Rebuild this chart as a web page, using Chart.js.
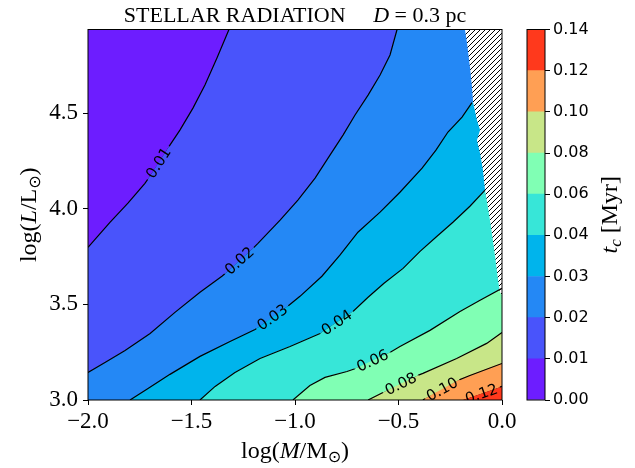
<!DOCTYPE html>
<html>
<head>
<meta charset="utf-8">
<script src="https://cdn.jsdelivr.net/npm/chart.js@4.4.0/dist/chart.umd.min.js"></script>
<style>
html, body { margin: 0; padding: 0; background: #fff; }
#wrap { position: relative; width: 635px; height: 468px; }
#wrap canvas { position: absolute; left: 0; top: 0; }
</style>
</head>
<body>
<div id="wrap">
  <canvas id="main" width="635" height="468"></canvas>
  <canvas id="cbar" width="635" height="468"></canvas>
</div>
<script>
// Axis ranges and ticks
const xMin = -2.0, xMax = 0.0, yMin = 3.0, yMax = 4.937;
const xTicks = [-2.0, -1.5, -1.0, -0.5, 0.0];
const yTicks = [3.0, 3.5, 4.0, 4.5];

// Contour levels (Myr) and colorbar tick labels
const levels = [0.00, 0.01, 0.02, 0.03, 0.04, 0.06, 0.08, 0.10, 0.12, 0.14];
const levelLabels = ['0.00', '0.01', '0.02', '0.03', '0.04', '0.06', '0.08', '0.10', '0.12', '0.14'];

// Contour lines, [log M, log L]
const line001 = [[-1.319, 4.937], [-1.377, 4.788], [-1.435, 4.647], [-1.493, 4.526], [-1.556, 4.411], [-1.614, 4.317], [-1.657, 4.238], [-1.725, 4.133], [-1.807, 4.029], [-1.894, 3.929], [-2.000, 3.798]];
const line002 = [[-0.507, 4.937], [-0.541, 4.804], [-0.589, 4.699], [-0.647, 4.594], [-0.710, 4.490], [-0.768, 4.385], [-0.831, 4.280], [-0.903, 4.160], [-0.986, 4.045], [-1.072, 3.940], [-1.179, 3.819], [-1.266, 3.725], [-1.353, 3.647], [-1.459, 3.563], [-1.580, 3.458], [-1.700, 3.348], [-1.821, 3.259], [-1.918, 3.196], [-2.000, 3.144]];
const line003 = [[-0.145, 4.555], [-0.193, 4.479], [-0.261, 4.401], [-0.319, 4.306], [-0.386, 4.212], [-0.493, 4.086], [-0.589, 3.982], [-0.696, 3.877], [-0.783, 3.757], [-0.870, 3.647], [-0.976, 3.542], [-1.106, 3.427], [-1.193, 3.369], [-1.314, 3.306], [-1.459, 3.228], [-1.604, 3.134], [-1.710, 3.060], [-1.797, 3.000]];
const line004 = [[-0.082, 4.097], [-0.155, 4.013], [-0.237, 3.929], [-0.314, 3.856], [-0.396, 3.777], [-0.478, 3.688], [-0.570, 3.610], [-0.647, 3.537], [-0.720, 3.463], [-0.797, 3.406], [-0.879, 3.348], [-1.024, 3.280], [-1.169, 3.217], [-1.290, 3.144], [-1.386, 3.071], [-1.459, 3.000]];
const line006 = [[0.000, 3.584], [-0.106, 3.521], [-0.203, 3.463], [-0.348, 3.364], [-0.493, 3.280], [-0.623, 3.196], [-0.749, 3.149], [-0.855, 3.118], [-0.928, 3.076], [-1.010, 3.000]];
const line008 = [[0.000, 3.353], [-0.074, 3.296], [-0.219, 3.217], [-0.382, 3.139], [-0.493, 3.092], [-0.575, 3.039], [-0.647, 3.000]];
const line010 = [[0.000, 3.191], [-0.155, 3.128], [-0.237, 3.092], [-0.300, 3.060], [-0.382, 3.000]];
const line012 = [[0.000, 3.071], [-0.092, 3.034], [-0.188, 3.000]];

// Edge of the hatched (no data) region at top right
const hatchEdge = [[-0.179, 4.937], [-0.169, 4.867], [-0.155, 4.741], [-0.145, 4.636], [-0.140, 4.558], [-0.121, 4.463], [-0.106, 4.411], [-0.121, 4.358], [-0.106, 4.290], [-0.092, 4.201], [-0.082, 4.097], [-0.068, 4.008], [-0.053, 3.903], [-0.034, 3.757], [-0.019, 3.626], [-0.010, 3.563], [0.000, 3.547]];

// Inline contour labels
const labelText = ['0.01', '0.02', '0.03', '0.04', '0.06', '0.08', '0.10', '0.12'];
const labelX = [-1.656, -1.266, -1.105, -0.799, -0.622, -0.493, -0.291, -0.098];
const labelY = [4.237, 3.725, 3.425, 3.407, 3.198, 3.093, 3.059, 3.024];

const contours = [line001, line002, line003, line004, line006, line008, line010, line012];

// rainbow colormap, one colour per band
const colors = ['#6d1dff', '#4954fb', '#2488f5', '#00b4ec', '#37e6d8', '#80ffb4', '#c8e688', '#ff9f54', '#ff391c'];

const serif = '"Liberation Serif", "DejaVu Serif", serif';
const sans = '"DejaVu Sans", sans-serif';

const toXY = pts => pts.map(p => ({x: p[0], y: p[1]}));

// region where t_c is above a level: the line plus the lower right corners
function regionAbove(pts) {
    const poly = pts.slice();
    const first = pts[0], last = pts[pts.length - 1];
    if (last[0] === xMin) poly.push([xMin, yMin]);
    poly.push([xMax, yMin]);
    poly.push([xMax, first[1]]);
    return poly;
}

function hatchPattern() {
    const s = 5;
    const c = document.createElement('canvas');
    c.width = s; c.height = s;
    const g = c.getContext('2d');
    g.fillStyle = '#fff';
    g.fillRect(0, 0, s, s);
    g.strokeStyle = '#000';
    g.lineWidth = 1;
    g.beginPath();
    g.moveTo(0, s); g.lineTo(s, 0);
    g.moveTo(-1, 1); g.lineTo(1, -1);
    g.moveTo(s - 1, s + 1); g.lineTo(s + 1, s - 1);
    g.stroke();
    return g.createPattern(c, 'repeat');
}

// draw a row of text pieces (for italics / subscripts) centred on cx
function drawRuns(ctx, runs, cx, cy, rot) {
    ctx.save();
    ctx.translate(cx, cy);
    ctx.rotate(rot);
    let w = 0;
    runs.forEach(r => { ctx.font = r.font; r.w = ctx.measureText(r.t).width; w += r.w; });
    let x = -w / 2;
    ctx.fillStyle = '#000';
    ctx.textAlign = 'left';
    ctx.textBaseline = 'alphabetic';
    runs.forEach(r => { ctx.font = r.font; ctx.fillText(r.t, x, r.dy || 0); x += r.w; });
    ctx.restore();
}

function pointAt(pts, s) {
    for (let k = 0; k < pts.length - 1; k++) {
        const [x1, y1] = pts[k], [x2, y2] = pts[k + 1];
        const len = Math.hypot(x2 - x1, y2 - y1);
        if (s <= len || k === pts.length - 2) {
            const t = len ? Math.max(0, Math.min(1, s / len)) : 0;
            return [x1 + t * (x2 - x1), y1 + t * (y2 - y1)];
        }
        s -= len;
    }
    return pts[0];
}

const contourLabels = {
    id: 'contourLabels',
    afterDatasetsDraw(chart) {
        const {ctx, chartArea: a} = chart;
        const xs = chart.scales.x, ys = chart.scales.y;
        ctx.save();
        ctx.beginPath();
        ctx.rect(a.left, a.top, a.right - a.left, a.bottom - a.top);
        ctx.clip();
        ctx.font = '15px ' + sans;
        labelText.forEach((txt, i) => {
            const pts = contours[i].map(p => [xs.getPixelForValue(p[0]), ys.getPixelForValue(p[1])]);
            const lx = xs.getPixelForValue(labelX[i]), ly = ys.getPixelForValue(labelY[i]);
            // project label onto the polyline
            let best = null, acc = 0;
            for (let k = 0; k < pts.length - 1; k++) {
                const [x1, y1] = pts[k], [x2, y2] = pts[k + 1];
                const dx = x2 - x1, dy = y2 - y1, len = Math.hypot(dx, dy);
                let t = ((lx - x1) * dx + (ly - y1) * dy) / (len * len);
                t = Math.max(0, Math.min(1, t));
                const px = x1 + t * dx, py = y1 + t * dy;
                const d = Math.hypot(px - lx, py - ly);
                if (!best || d < best.d) best = {d, px, py, s: acc + t * len};
                acc += len;
            }
            const tw = ctx.measureText(txt).width;
            const half = tw / 2 + 3;
            const p1 = pointAt(pts, Math.max(0, best.s - half));
            const p2 = pointAt(pts, best.s + half);
            let ang = Math.atan2(p2[1] - p1[1], p2[0] - p1[0]);
            if (ang > Math.PI / 2) ang -= Math.PI;
            if (ang < -Math.PI / 2) ang += Math.PI;
            const cx = (p1[0] + p2[0]) / 2, cy = (p1[1] + p2[1]) / 2;
            ctx.save();
            ctx.translate(cx, cy);
            ctx.rotate(ang);
            // gap in the contour line: paint both neighbouring bands
            ctx.fillStyle = colors[i];
            ctx.fillRect(-half, -4, 2 * half, 4);
            ctx.fillStyle = colors[i + 1];
            ctx.fillRect(-half, 0, 2 * half, 4);
            ctx.fillStyle = '#000';
            ctx.textAlign = 'center';
            ctx.textBaseline = 'middle';
            ctx.fillText(txt, 0, 1);
            ctx.restore();
        });
        ctx.restore();
    },
    afterDraw(chart) {
        const {ctx, chartArea: a} = chart;
        ctx.save();
        ctx.strokeStyle = '#000';
        ctx.lineWidth = 1;
        ctx.strokeRect(a.left, a.top, a.right - a.left, a.bottom - a.top);
        ctx.restore();
        const cx = (a.left + a.right) / 2;
        drawRuns(ctx, [
            {t: 'STELLAR RADIATION', font: '22px ' + serif},
            {t: '\u2003 ', font: '22px ' + serif},
            {t: 'D', font: 'italic 22px ' + serif},
            {t: ' = 0.3 pc', font: '22px ' + serif}
        ], cx, 22, 0);
        drawRuns(ctx, [
            {t: 'log(', font: '24px ' + serif},
            {t: 'M', font: 'italic 24px ' + serif},
            {t: '/M', font: '24px ' + serif},
            {t: '\u2299', font: '16px ' + sans, dy: 4},
            {t: ')', font: '24px ' + serif}
        ], cx, 458, 0);
        drawRuns(ctx, [
            {t: 'log(', font: '24px ' + serif},
            {t: 'L', font: 'italic 24px ' + serif},
            {t: '/L', font: '24px ' + serif},
            {t: '\u2299', font: '16px ' + sans, dy: 4},
            {t: ')', font: '24px ' + serif}
        ], 36, (a.top + a.bottom) / 2, -Math.PI / 2);
    }
};

// Build datasets: background band, filled regions, hatch, then the lines
const datasets = [];
datasets.push({
    data: toXY([[xMin, yMin], [xMax, yMin], [xMax, yMax], [xMin, yMax]]),
    backgroundColor: colors[0], borderColor: colors[0], borderWidth: 1,
    fill: 'shape', order: 40
});
contours.forEach((pts, i) => {
    datasets.push({
        data: toXY(regionAbove(pts)),
        backgroundColor: colors[i + 1], borderColor: colors[i + 1], borderWidth: 1,
        fill: 'shape', order: 30 - i
    });
});
datasets.push({
    data: toXY(hatchEdge.concat([[xMax, yMax]])),
    backgroundColor: hatchPattern(), borderColor: 'rgba(0,0,0,0)', borderWidth: 0,
    fill: 'shape', order: 2
});
contours.forEach(pts => {
    datasets.push({
        data: toXY(pts),
        borderColor: '#000', borderWidth: 1.2,
        fill: false, order: 1
    });
});

const fmtTick = v => v.toFixed(1).replace('-', '\u2212');

new Chart(document.getElementById('main'), {
    type: 'line',
    data: {datasets: datasets},
    options: {
        responsive: false,
        animation: false,
        layout: {padding: {left: 0, right: 133, top: 29.5, bottom: 0}},
        elements: {point: {radius: 0, hoverRadius: 0}, line: {tension: 0}},
        plugins: {legend: {display: false}, tooltip: {enabled: false}},
        events: [],
        scales: {
            x: {
                type: 'linear', min: xMin, max: xMax,
                afterBuildTicks: axis => { axis.ticks = xTicks.map(v => ({value: v})); },
                afterFit: axis => { axis.height = 68; },
                ticks: {callback: fmtTick, color: '#000', font: {family: serif, size: 23}, padding: 3, maxRotation: 0},
                grid: {drawOnChartArea: false, color: '#000', tickLength: 5},
                border: {display: false}
            },
            y: {
                type: 'linear', min: yMin, max: yMax,
                afterBuildTicks: axis => { axis.ticks = yTicks.map(v => ({value: v})); },
                afterFit: axis => { axis.width = 88; },
                ticks: {callback: fmtTick, color: '#000', font: {family: serif, size: 23}, padding: 5},
                grid: {drawOnChartArea: false, color: '#000', tickLength: 5},
                border: {display: false}
            }
        }
    },
    plugins: [contourLabels]
});

// Colorbar: one floating bar per band, equal spacing like matplotlib
const cbarFrame = {
    id: 'cbarFrame',
    afterDraw(chart) {
        const {ctx, chartArea: a} = chart;
        ctx.save();
        ctx.strokeStyle = '#000';
        ctx.lineWidth = 1;
        ctx.strokeRect(a.left, a.top, a.right - a.left, a.bottom - a.top);
        ctx.restore();
        drawRuns(ctx, [
            {t: 't', font: 'italic 24px ' + serif},
            {t: 'c', font: 'italic 17px ' + serif, dy: 4},
            {t: ' [Myr]', font: '24px ' + serif}
        ], 617, (a.top + a.bottom) / 2, -Math.PI / 2);
    }
};

new Chart(document.getElementById('cbar'), {
    type: 'bar',
    data: {
        labels: ['t_c'],
        datasets: colors.map((c, i) => ({
            data: [[i, i + 1]],
            backgroundColor: c,
            borderWidth: 0,
            barPercentage: 1,
            categoryPercentage: 1,
            grouped: false
        }))
    },
    options: {
        responsive: false,
        animation: false,
        events: [],
        layout: {padding: {left: 527, right: 30, top: 29.5, bottom: 68}},
        plugins: {legend: {display: false}, tooltip: {enabled: false}},
        scales: {
            x: {display: false},
            y: {
                position: 'right', min: 0, max: levels.length - 1,
                afterBuildTicks: axis => { axis.ticks = levels.map((_, i) => ({value: i})); },
                afterFit: axis => { axis.width = 60; },
                ticks: {callback: v => levelLabels[v], color: '#000', font: {family: sans, size: 16}, padding: 3},
                grid: {drawOnChartArea: false, color: '#000', tickLength: 5},
                border: {display: false}
            }
        }
    },
    plugins: [cbarFrame]
});
</script>
</body>
</html>
